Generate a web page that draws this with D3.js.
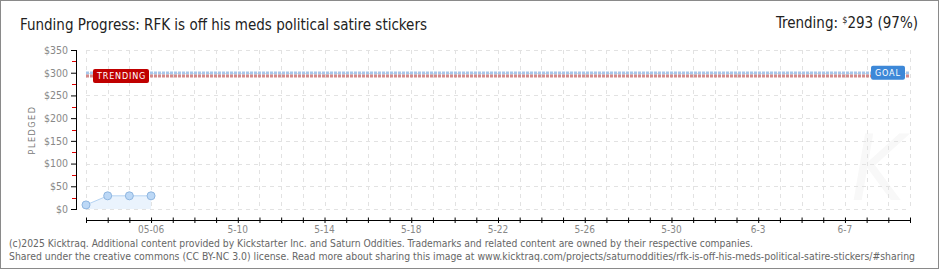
<!DOCTYPE html>
<html>
<head>
<meta charset="utf-8">
<script src="https://cdn.jsdelivr.net/npm/d3@7"></script>
<style>
  body { margin: 0; background: #fff; }
  svg { display: block; }
  text { font-family: "DejaVu Sans Condensed", "DejaVu Sans", sans-serif; }
</style>
</head>
<body>
<svg width="940" height="270"></svg>
<script>
// data
const pledgeDates = ["2025-05-03", "2025-05-04", "2025-05-05", "2025-05-06"]
const pledged = [9, 29, 29, 29]
const goal = 300
const trending = 293
const trendingPct = 97
const yTicks = [0, 50, 100, 150, 200, 250, 300, 350]
const xLabelDates = ["2025-05-06", "2025-05-10", "2025-05-14", "2025-05-18", "2025-05-22", "2025-05-26", "2025-05-30", "2025-06-03", "2025-06-07"]
const xLabels = ["05-06", "5-10", "5-14", "5-18", "5-22", "5-26", "5-30", "6-3", "6-7"]
const startDate = "2025-05-03"
const endDate = "2025-06-10"

const svg = d3.select("svg")
const parse = d3.utcParse("%Y-%m-%d")

const x = d3.scaleUtc()
    .domain([parse(startDate), parse(endDate)])
    .range([86, 910])
const y = d3.scaleLinear()
    .domain([0, 350])
    .range([209, 50])

// frame
svg.append("rect")
    .attr("x", 0.5).attr("y", 0.5)
    .attr("width", 938).attr("height", 268)
    .attr("fill", "#fff")
    .attr("stroke", "#8a8a8a")

// watermark
svg.append("text")
    .attr("x", 878).attr("y", 200)
    .attr("text-anchor", "middle")
    .attr("font-size", 90)
    .attr("font-style", "italic")
    .attr("fill", "#f8f8f8")
    .text("K")

// grid
const days = d3.utcDay.range(parse(startDate), d3.utcDay.offset(parse(endDate), 1))
svg.append("g")
    .selectAll("line")
    .data(days)
    .enter().append("line")
    .attr("x1", d => Math.round(x(d)) + 0.5)
    .attr("x2", d => Math.round(x(d)) + 0.5)
    .attr("y1", y(350)).attr("y2", y(0))
    .attr("stroke", "#e2e2e2")
    .attr("stroke-dasharray", "4,4")

svg.append("g")
    .selectAll("line")
    .data(yTicks)
    .enter().append("line")
    .attr("x1", 86).attr("x2", 910)
    .attr("y1", d => Math.round(y(d)) + 0.5)
    .attr("y2", d => Math.round(y(d)) + 0.5)
    .attr("stroke", "#e2e2e2")
    .attr("stroke-dasharray", "4,4")

// pledged area + line + points
const pts = pledgeDates.map((d, i) => ({ date: parse(d), value: pledged[i] }))

svg.append("path")
    .datum(pts)
    .attr("fill", "#eaf3fd")
    .attr("d", d3.area().x(d => x(d.date)).y0(y(0)).y1(d => y(d.value)))

svg.append("path")
    .datum(pts)
    .attr("fill", "none")
    .attr("stroke", "#b4d2f2")
    .attr("stroke-width", 1)
    .attr("d", d3.line().x(d => x(d.date)).y(d => y(d.value)))

svg.append("g")
    .selectAll("circle")
    .data(pts)
    .enter().append("circle")
    .attr("cx", d => x(d.date))
    .attr("cy", d => y(d.value))
    .attr("r", 4)
    .attr("fill", "#bcd8f6")
    .attr("stroke", "#8fb6e0")

// goal and trending lines
function dashLine(value, color) {
    const yy = Math.round(y(value))
    svg.append("line")
        .attr("x1", 86).attr("x2", 910)
        .attr("y1", yy).attr("y2", yy)
        .attr("stroke", color)
        .attr("stroke-width", 3)
        .attr("stroke-dasharray", "3,1")
}
dashLine(goal, "#a6c6ea")
dashLine(trending, "#d48a8a")

function badge(x0, y0, w, h, fill, label) {
    svg.append("rect")
        .attr("x", x0).attr("y", y0)
        .attr("width", w).attr("height", h)
        .attr("rx", 2)
        .attr("fill", fill)
    svg.append("text")
        .attr("x", x0 + 4).attr("y", y0 + h - 3.5)
        .attr("font-size", 9)
        .attr("letter-spacing", 0.8)
        .attr("fill", "#fff")
        .text(label)
}
badge(93, y(trending) - 7, 56, 14, "#c00000", "TRENDING")
badge(871, y(goal) - 7, 34, 14, "#3d88d8", "GOAL")

// y axis
svg.append("line")
    .attr("x1", 76.5).attr("x2", 76.5)
    .attr("y1", y(350)).attr("y2", y(0) + 1)
    .attr("stroke", "#000")

svg.append("g")
    .selectAll("line")
    .data(d3.range(25, 350, 50))
    .enter().append("line")
    .attr("x1", 72).attr("x2", 76)
    .attr("y1", d => Math.round(y(d)) + 0.5)
    .attr("y2", d => Math.round(y(d)) + 0.5)
    .attr("stroke", "#e00000")

const yAxis = svg.append("g")
    .attr("transform", "translate(77,0)")
    .call(d3.axisLeft(y).tickValues(yTicks).tickSize(6).tickFormat(d => "$" + d))
yAxis.select(".domain").remove()
yAxis.selectAll("line").attr("stroke", "#000")
yAxis.selectAll("text")
    .attr("font-size", 10.5)
    .attr("fill", "#888")
    .attr("font-family", "DejaVu Sans Condensed, sans-serif")
    .attr("x", -9)

svg.append("text")
    .attr("transform", "translate(35,130) rotate(-90)")
    .attr("text-anchor", "middle")
    .attr("font-size", 9)
    .attr("letter-spacing", 1.5)
    .attr("fill", "#777")
    .text("PLEDGED")

// x axis
const xAxis = svg.append("g")
    .attr("transform", "translate(0,220)")
    .call(d3.axisBottom(x).tickValues(days).tickSize(0).tickFormat(""))
xAxis.select(".domain").attr("d", `M${x(parse(startDate))},0.5H${x(parse(endDate))}`).attr("stroke", "#000")
xAxis.selectAll(".tick line")
    .attr("y1", -2.5).attr("y2", 3)
    .attr("stroke", "#000")

svg.append("g")
    .selectAll("text")
    .data(xLabelDates)
    .enter().append("text")
    .attr("x", d => x(parse(d)))
    .attr("y", 233)
    .attr("text-anchor", "middle")
    .attr("font-size", 10)
    .attr("fill", "#888")
    .text((d, i) => xLabels[i])

// titles
svg.append("text")
    .attr("x", 20).attr("y", 30)
    .attr("font-size", 15)
    .attr("fill", "#222")
    .attr("textLength", 407)
    .attr("lengthAdjust", "spacingAndGlyphs")
    .text("Funding Progress: RFK is off his meds political satire stickers")

const tr = svg.append("text")
    .attr("x", 918).attr("y", 28)
    .attr("text-anchor", "end")
    .attr("font-size", 15)
    .attr("fill", "#222")
tr.append("tspan").text("Trending: ")
tr.append("tspan").attr("font-size", 9).attr("dy", -5).text("$")
tr.append("tspan").attr("dy", 5).text(trending + " (" + trendingPct + "%)")

// footer
svg.append("text")
    .attr("x", 9).attr("y", 247)
    .attr("font-size", 10)
    .attr("fill", "#666")
    .attr("textLength", 744)
    .attr("lengthAdjust", "spacingAndGlyphs")
    .text("(c)2025 Kicktraq. Additional content provided by Kickstarter Inc. and Saturn Oddities. Trademarks and related content are owned by their respective companies.")
svg.append("text")
    .attr("x", 9).attr("y", 260)
    .attr("font-size", 10)
    .attr("fill", "#666")
    .attr("textLength", 906)
    .attr("lengthAdjust", "spacingAndGlyphs")
    .text("Shared under the creative commons (CC BY-NC 3.0) license. Read more about sharing this image at www.kicktraq.com/projects/saturnoddities/rfk-is-off-his-meds-political-satire-stickers/#sharing")
</script>
</body>
</html>
